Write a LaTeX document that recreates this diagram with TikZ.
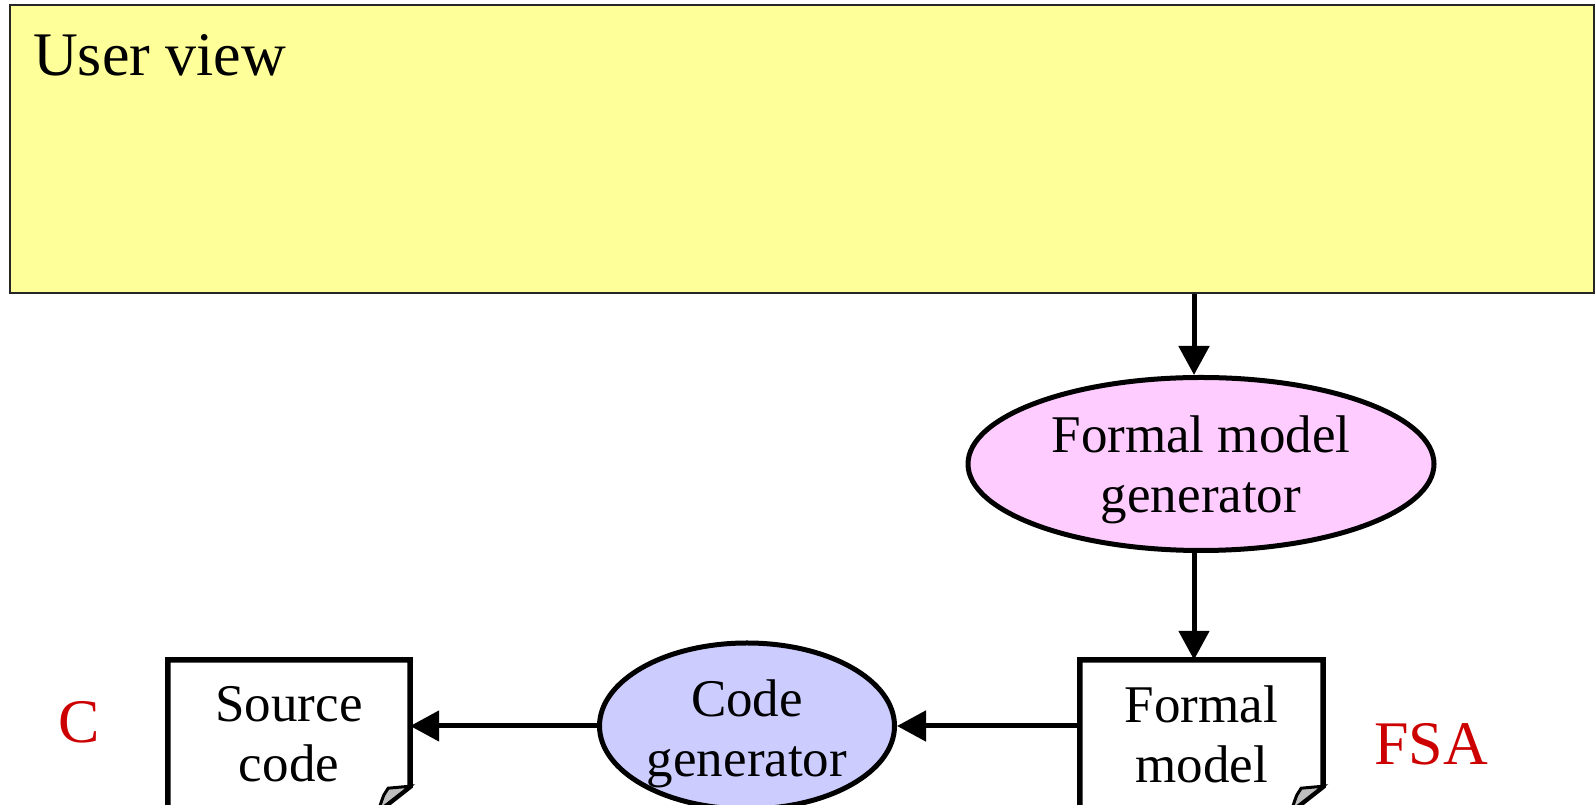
\documentclass[tikz,border=0pt]{standalone}
\usepackage{fontspec}
\setmainfont{Liberation Serif}
\usetikzlibrary{shapes.geometric,arrows.meta,calc}
\definecolor{uvyellow}{RGB}{255,255,153}
\definecolor{fmgpink}{RGB}{255,204,255}
\definecolor{cgblue}{RGB}{204,204,255}
\definecolor{lblred}{RGB}{204,0,0}
\tikzset{
  arr/.style={line width=5pt,-{Triangle[length=29pt,width=30pt]}},
  ellnode/.style={ellipse,draw,line width=5pt,inner sep=0pt},
  txt/.style={inner sep=0pt,align=center,font=\fontsize{53}{60}\selectfont},
  docnode/.style={rectangle,inner sep=0pt,align=center,font=\fontsize{53}{60}\selectfont},
  docline/.style={line width=5.5pt,line join=miter},
  redlbl/.style={text=lblred,font=\fontsize{62}{70}\selectfont,inner sep=0pt},
}
\begin{document}
\begin{tikzpicture}[x=1pt,y=1pt]
\useasboundingbox (0,0) rectangle (1596,805);
% User view
\node[draw=black!85,line width=2pt,fill=uvyellow,rectangle,minimum width=1584pt,minimum height=288pt,inner sep=0pt,anchor=north west] (uv) at (9,801) {};
\node[anchor=base west,inner sep=0pt,font=\fontsize{62}{70}\selectfont] (uvt) at (33,729) {User view};
\coordinate (ax) at (1194,0);
% Formal model generator
\node[ellnode,fill=fmgpink,minimum width=466pt,minimum height=173pt] (fmg) at (1201,341) {};
\node[txt] (fmgt) at (1201,335) {Formal model\\generator};
% Formal model document
\node[docnode,minimum width=243pt,minimum height=148pt] (fm) at (1201.5,71) {Formal\\model};
% Source code document
\node[docnode,minimum width=242pt,minimum height=148pt] (sc) at (289,71) {Source\\code};
% Code generator
\node[ellnode,fill=cgblue,minimum width=295pt,minimum height=166pt] (cg) at (747,79) {};
\node[txt] (cgt) at (747,71) {Code\\generator};
% document outlines
\foreach \d in {fm,sc}{
  \draw[docline] ($(\d.south east)+(-28,0)$) -- (\d.south west) -- (\d.north west) -- (\d.north east) -- ($(\d.south east)+(0,22)$) -- ($(\d.south east)+(-28,0)$);
  \draw[line width=3pt,fill=black!25] ($(\d.south east)+(0,22)$) -- ($(\d.south east)+(-22,20)$) .. controls ($(\d.south east)+(-26,15)$) .. ($(\d.south east)+(-32,-3)$) -- cycle;
}
% connectors
\draw[arr] (uv.south -| ax) -- (fmg.north -| ax);
\draw[arr] (fmg.south -| ax) -- (fm.north -| ax);
\draw[arr] (fm.west |- cg.east) -- (cg.east);
\draw[arr] (cg.west) -- (sc.east |- cg.west);
% labels
\node[redlbl,anchor=base] (lc) at (79,62) {C};
\node[redlbl,anchor=base] (lfsa) at (1431,40) {FSA};
\end{tikzpicture}
\end{document}
